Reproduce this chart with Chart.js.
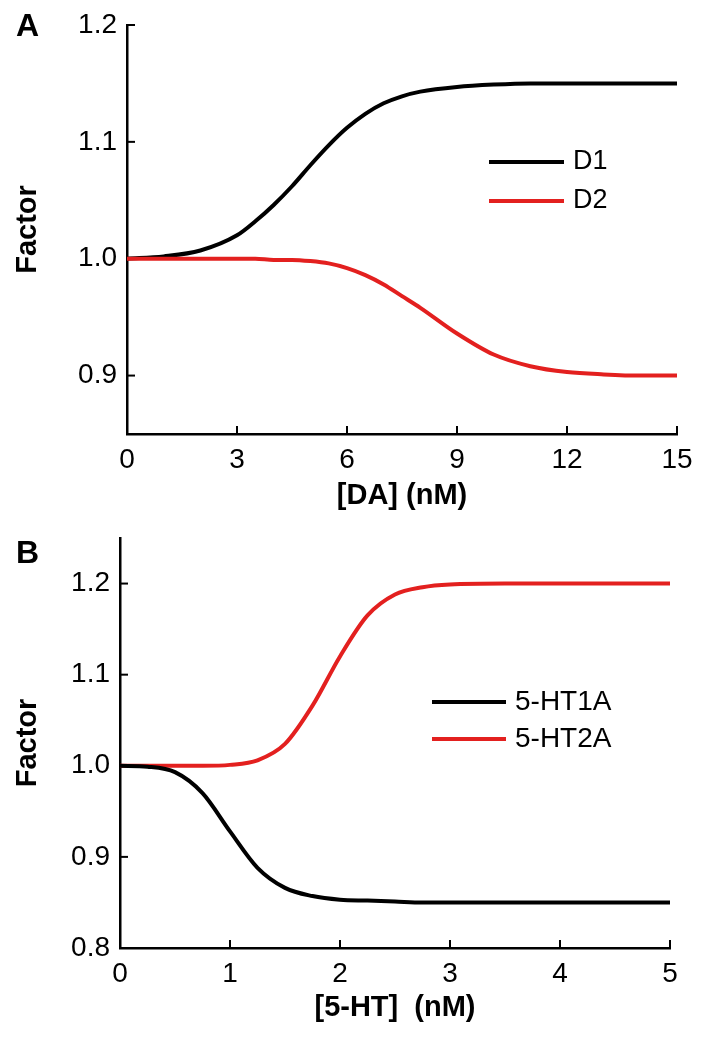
<!DOCTYPE html>
<html>
<head>
<meta charset="utf-8">
<script src="https://cdn.jsdelivr.net/npm/chart.js@4"></script>
<style>
  html, body { margin: 0; padding: 0; background: #fff; }
  canvas { display: block; }
</style>
</head>
<body>
<canvas id="chartA" width="709" height="520"></canvas>
<canvas id="chartB" width="709" height="519"></canvas>
<script>
// Panel A - dopamine
const doseDA = [0, 1, 2, 3, 3.5, 4, 4.5, 5, 5.5, 6, 6.5, 7, 7.5, 8, 9, 10, 11, 12, 13, 14, 15];
const factorD1 = [1.000, 1.002, 1.007, 1.020, 1.032, 1.046, 1.062, 1.080, 1.097, 1.112, 1.124, 1.133, 1.139, 1.143, 1.147, 1.149, 1.150, 1.150, 1.150, 1.150, 1.150];
const factorD2 = [1.000, 1.000, 1.000, 1.000, 1.000, 0.999, 0.999, 0.998, 0.996, 0.992, 0.986, 0.978, 0.968, 0.958, 0.936, 0.918, 0.908, 0.903, 0.901, 0.900, 0.900];
const ticksDA = [0, 3, 6, 9, 12, 15];
const ticksFactorA = [0.9, 1.0, 1.1, 1.2];

// Panel B - serotonin
const doseHT = [0, 0.25, 0.5, 0.75, 1, 1.25, 1.5, 1.75, 2, 2.25, 2.5, 2.75, 3, 3.5, 4, 4.5, 5];
const factorHT1A = [1.000, 0.999, 0.993, 0.970, 0.928, 0.888, 0.866, 0.857, 0.853, 0.852, 0.851, 0.850, 0.850, 0.850, 0.850, 0.850, 0.850];
const factorHT2A = [1.000, 1.000, 1.000, 1.000, 1.001, 1.006, 1.024, 1.066, 1.120, 1.165, 1.188, 1.196, 1.199, 1.200, 1.200, 1.200, 1.200];
const ticksHT = [0, 1, 2, 3, 4, 5];
const ticksFactorB = [0.8, 0.9, 1.0, 1.1, 1.2];

const BLACK = '#000000';
const RED = '#e3201f';

Chart.defaults.font.family = "'Liberation Sans', Arial, sans-serif";
Chart.defaults.color = '#000';

const toPoints = (xs, ys) => xs.map((x, i) => ({ x, y: ys[i] }));

// small inward tick marks, like the original figure
const inwardTicks = {
  id: 'inwardTicks',
  beforeDatasetsDraw(chart) {
    const { ctx, chartArea, scales: { x, y } } = chart;
    ctx.save();
    ctx.strokeStyle = '#000';
    ctx.lineWidth = 2;
    x.ticks.forEach(t => {
      if (t.value === x.min) return;
      const px = x.getPixelForValue(t.value);
      ctx.beginPath();
      ctx.moveTo(px, chartArea.bottom);
      ctx.lineTo(px, chartArea.bottom - 8);
      ctx.stroke();
    });
    y.ticks.forEach(t => {
      if (t.value === y.min) return;
      const py = y.getPixelForValue(t.value);
      ctx.beginPath();
      ctx.moveTo(chartArea.left, py);
      ctx.lineTo(chartArea.left + 8, py);
      ctx.stroke();
    });
    ctx.restore();
  }
};

// legend drawn inside the plot, line + label
const lineKey = {
  id: 'lineKey',
  afterDraw(chart, args, opts) {
    const { ctx } = chart;
    ctx.save();
    ctx.font = `${opts.size}px 'Liberation Sans', Arial, sans-serif`;
    ctx.textBaseline = 'middle';
    ctx.fillStyle = '#000';
    chart.data.datasets.forEach((ds, i) => {
      const yy = opts.rows[i];
      ctx.strokeStyle = ds.borderColor;
      ctx.lineWidth = 4;
      ctx.beginPath();
      ctx.moveTo(opts.x1, yy);
      ctx.lineTo(opts.x2, yy);
      ctx.stroke();
      ctx.fillText(ds.label, opts.textX, yy);
    });
    ctx.restore();
  }
};

// panel letter
const panelTag = {
  id: 'panelTag',
  afterDraw(chart, args, opts) {
    const { ctx } = chart;
    ctx.save();
    ctx.font = "bold 32px 'Liberation Sans', Arial, sans-serif";
    ctx.fillStyle = '#000';
    ctx.textBaseline = 'alphabetic';
    ctx.fillText(opts.text, opts.x, opts.y);
    ctx.restore();
  }
};

const makeChart = (id, cfg) => new Chart(document.getElementById(id), {
  type: 'line',
  data: {
    datasets: cfg.series.map(s => ({
      label: s.label,
      data: toPoints(cfg.xs, s.values),
      borderColor: s.color,
      borderWidth: 4,
      pointRadius: 0,
      cubicInterpolationMode: 'monotone',
      order: s.order
    }))
  },
  options: {
    responsive: false,
    animation: false,
    layout: { padding: cfg.padding },
    plugins: {
      legend: { display: false },
      tooltip: { enabled: false },
      lineKey: cfg.key,
      panelTag: cfg.tag
    },
    scales: {
      x: {
        type: 'linear',
        min: cfg.xTicks[0],
        max: cfg.xTicks[cfg.xTicks.length - 1],
        grid: { display: false, drawTicks: false },
        border: { display: true, color: '#000', width: 2.5 },
        ticks: { font: { size: 28 }, padding: 9, maxRotation: 0 },
        afterBuildTicks: axis => { axis.ticks = cfg.xTicks.map(v => ({ value: v })); },
        afterFit: axis => { axis.height = cfg.xHeight; axis.paddingLeft = 0; axis.paddingRight = 0; },
        title: { display: true, text: cfg.xTitle, font: { size: 29, weight: 'bold' }, padding: { top: 0, bottom: cfg.xTitlePad } }
      },
      y: {
        type: 'linear',
        min: cfg.yMin,
        max: cfg.yMax,
        grid: { display: false, drawTicks: false },
        border: { display: true, color: '#000', width: 2.5 },
        ticks: { font: { size: 28 }, padding: 10, callback: v => Number(v).toFixed(1) },
        afterBuildTicks: axis => { axis.ticks = cfg.yTicks.map(v => ({ value: v })); },
        afterFit: axis => { axis.width = cfg.yWidth; axis.paddingTop = 0; axis.paddingBottom = 0; },
        title: { display: true, text: 'Factor', font: { size: 29, weight: 'bold' }, padding: { top: 11, bottom: 0 } }
      }
    }
  },
  plugins: [inwardTicks, lineKey, panelTag]
});

makeChart('chartA', {
  xs: doseDA,
  series: [
    { label: 'D1', values: factorD1, color: BLACK, order: 1 },
    { label: 'D2', values: factorD2, color: RED, order: 0 }
  ],
  xTicks: ticksDA,
  yTicks: ticksFactorA,
  yMin: 0.85,
  yMax: 1.2,
  xTitle: '[DA] (nM)',
  xTitlePad: 7,
  xHeight: 86,
  yWidth: 127,
  padding: { top: 25, right: 32, left: 0, bottom: 0 },
  key: { x1: 489, x2: 564, textX: 573, rows: [162, 201], size: 27 },
  tag: { text: 'A', x: 16, y: 36 }
});

makeChart('chartB', {
  xs: doseHT,
  series: [
    { label: '5-HT1A', values: factorHT1A, color: BLACK, order: 0 },
    { label: '5-HT2A', values: factorHT2A, color: RED, order: 1 }
  ],
  xTicks: ticksHT,
  yTicks: ticksFactorB,
  yMin: 0.8,
  yMax: 1.25,
  xTitle: '[5-HT]  (nM)',
  xTitlePad: 14,
  xHeight: 91,
  yWidth: 120,
  padding: { top: 18, right: 39, left: 0, bottom: 0 },
  key: { x1: 432, x2: 506, textX: 515, rows: [182, 219], size: 28 },
  tag: { text: 'B', x: 16, y: 43 }
});
</script>
</body>
</html>
